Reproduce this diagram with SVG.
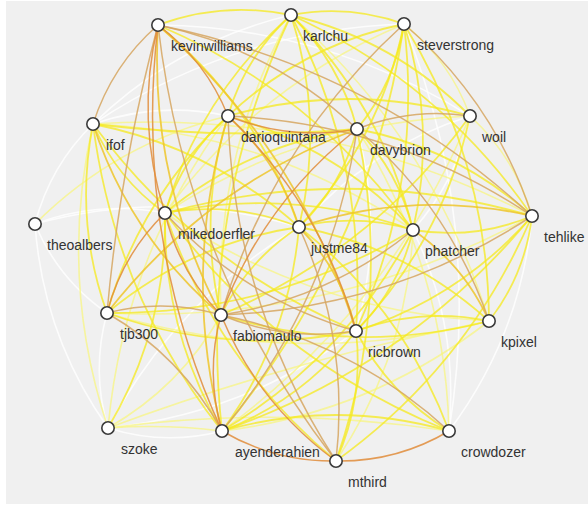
<svg xmlns="http://www.w3.org/2000/svg" width="588" height="505" viewBox="0 0 588 505">
<style>
.e path{fill:none;stroke-linecap:round}
.w{stroke:#ffffff;stroke-width:1.6;stroke-opacity:.8}
.ly{stroke:#f8f57a;stroke-width:1.6;stroke-opacity:.7}
.y{stroke:#f5ea1e;stroke-width:1.8;stroke-opacity:.75}
.g{stroke:#efc52c;stroke-width:1.8;stroke-opacity:.85}
.t{stroke:#d6a660;stroke-width:1.5;stroke-opacity:.85}
.o{stroke:#e08c3a;stroke-width:1.5;stroke-opacity:.85}
.n circle{fill:#ffffff;stroke:#3a3a3a;stroke-width:1.6}
.n text{font-family:"Liberation Sans",Arial,sans-serif;font-size:14px;fill:#333333}
</style>
<rect x="0" y="0" width="588" height="505" fill="#ffffff"/>
<rect x="6" y="1" width="582" height="503" fill="#f0f0f0"/>
<g id="connectors" class="e">
<g class="w">
<path d="M158 25Q327 27 470 116"/>
<path d="M291 15Q177 42 93 124"/>
<path d="M404 24Q483 221 449 431"/>
<path d="M93 124Q159 101 228 116"/>
<path d="M93 124Q50 166 35 224"/>
<path d="M470 116Q457 181 413 230"/>
<path d="M470 116Q369 148 299 227"/>
<path d="M35 224Q98 200 165 213"/>
<path d="M35 224Q58 279 107 313"/>
<path d="M35 224Q43 336 108 428"/>
<path d="M299 227Q175 301 108 428"/>
<path d="M413 230Q459 325 449 431"/>
<path d="M532 216Q521 335 449 431"/>
<path d="M107 313Q91 371 108 428"/>
<path d="M356 331Q246 414 108 428"/>
<path d="M222 431Q165 446 108 428"/>
<path d="M357 129Q385 230 356 331"/>
<path d="M93 124Q234 30 404 24"/>
<path d="M35 224Q167 188 299 227"/>
</g>
<g class="ly">
<path d="M93 124Q58 278 108 428"/>
<path d="M93 124Q268 132 413 230"/>
<path d="M93 124Q325 108 532 216"/>
<path d="M228 116Q124 255 108 428"/>
<path d="M228 116Q116 143 35 224"/>
<path d="M357 129Q445 267 449 431"/>
<path d="M470 116Q390 308 222 431"/>
<path d="M470 116Q304 122 165 213"/>
<path d="M470 116Q515 157 532 216"/>
<path d="M404 24Q258 85 165 213"/>
<path d="M404 24Q450 61 470 116"/>
<path d="M291 15Q214 155 221 315"/>
<path d="M291 15Q433 140 489 321"/>
<path d="M165 213Q312 312 489 321"/>
<path d="M413 230Q407 356 336 461"/>
<path d="M532 216Q333 324 107 313"/>
<path d="M107 313Q297 370 489 321"/>
<path d="M221 315Q180 387 108 428"/>
<path d="M222 431Q371 413 489 321"/>
<path d="M108 428Q280 405 449 431"/>
<path d="M108 428Q165 424 222 431"/>
<path d="M108 428Q290 360 489 321"/>
</g>
<g class="y">
<path d="M158 25Q223 1 291 15"/>
<path d="M158 25Q257 106 299 227"/>
<path d="M158 25Q314 92 413 230"/>
<path d="M291 15Q349 4 404 24"/>
<path d="M291 15Q245 57 228 116"/>
<path d="M291 15Q200 96 165 213"/>
<path d="M291 15Q325 120 299 227"/>
<path d="M291 15Q340 63 357 129"/>
<path d="M291 15Q395 40 470 116"/>
<path d="M291 15Q440 82 532 216"/>
<path d="M291 15Q382 105 413 230"/>
<path d="M291 15Q368 164 356 331"/>
<path d="M291 15Q198 213 222 431"/>
<path d="M404 24Q395 83 357 129"/>
<path d="M404 24Q303 45 228 116"/>
<path d="M404 24Q380 140 299 227"/>
<path d="M404 24Q437 126 413 230"/>
<path d="M404 24Q423 184 356 331"/>
<path d="M404 24Q488 161 489 321"/>
<path d="M404 24Q370 253 222 431"/>
<path d="M93 124Q225 140 357 129"/>
<path d="M93 124Q117 179 165 213"/>
<path d="M93 124Q210 147 299 227"/>
<path d="M93 124Q115 296 222 431"/>
<path d="M93 124Q74 221 107 313"/>
<path d="M93 124Q196 264 356 331"/>
<path d="M228 116Q349 82 470 116"/>
<path d="M228 116Q183 156 165 213"/>
<path d="M228 116Q197 215 221 315"/>
<path d="M228 116Q337 147 413 230"/>
<path d="M228 116Q140 198 107 313"/>
<path d="M357 129Q457 148 532 216"/>
<path d="M357 129Q342 186 299 227"/>
<path d="M357 129Q399 172 413 230"/>
<path d="M357 129Q249 144 165 213"/>
<path d="M357 129Q393 298 336 461"/>
<path d="M470 116Q443 240 356 331"/>
<path d="M470 116Q373 250 221 315"/>
<path d="M165 213Q234 201 299 227"/>
<path d="M165 213Q291 187 413 230"/>
<path d="M165 213Q349 163 532 216"/>
<path d="M165 213Q163 330 222 431"/>
<path d="M165 213Q167 329 108 428"/>
<path d="M165 213Q277 362 449 431"/>
<path d="M165 213Q216 361 336 461"/>
<path d="M299 227Q356 213 413 230"/>
<path d="M299 227Q248 260 221 315"/>
<path d="M299 227Q289 340 222 431"/>
<path d="M299 227Q191 243 107 313"/>
<path d="M299 227Q403 308 449 431"/>
<path d="M299 227Q407 247 489 321"/>
<path d="M413 230Q475 240 532 216"/>
<path d="M413 230Q399 289 356 331"/>
<path d="M413 230Q346 357 222 431"/>
<path d="M413 230Q272 314 107 313"/>
<path d="M532 216Q460 298 356 331"/>
<path d="M532 216Q525 275 489 321"/>
<path d="M532 216Q407 367 222 431"/>
<path d="M532 216Q468 366 336 461"/>
<path d="M107 313Q229 357 356 331"/>
<path d="M221 315Q354 356 489 321"/>
<path d="M356 331Q421 307 489 321"/>
<path d="M356 331Q303 400 222 431"/>
<path d="M356 331Q364 399 336 461"/>
<path d="M356 331Q389 394 449 431"/>
<path d="M222 431Q336 399 449 431"/>
</g>
<g class="g">
<path d="M158 25Q149 179 221 315"/>
<path d="M158 25Q300 150 356 331"/>
<path d="M93 124Q130 237 221 315"/>
<path d="M228 116Q279 162 299 227"/>
<path d="M228 116Q181 273 222 431"/>
<path d="M357 129Q206 186 107 313"/>
<path d="M299 227Q414 189 532 216"/>
<path d="M299 227Q342 271 356 331"/>
<path d="M413 230Q464 265 489 321"/>
</g>
<g class="t">
<path d="M158 25Q112 65 93 124"/>
<path d="M158 25Q120 168 107 313"/>
<path d="M158 25Q272 49 357 129"/>
<path d="M158 25Q372 68 532 216"/>
<path d="M158 25Q186 268 336 461"/>
<path d="M404 24Q495 102 532 216"/>
<path d="M404 24Q272 144 221 315"/>
<path d="M228 116Q394 123 532 216"/>
<path d="M228 116Q234 304 336 461"/>
<path d="M357 129Q412 107 470 116"/>
<path d="M357 129Q332 299 222 431"/>
<path d="M357 129Q450 207 489 321"/>
<path d="M165 213Q244 299 356 331"/>
<path d="M299 227Q350 339 336 461"/>
<path d="M413 230Q329 299 221 315"/>
<path d="M532 216Q390 309 221 315"/>
<path d="M107 313Q164 298 221 315"/>
<path d="M107 313Q181 356 222 431"/>
<path d="M221 315Q286 342 356 331"/>
<path d="M221 315Q351 341 449 431"/>
</g>
<g class="o">
<path d="M158 25Q135 120 165 213"/>
<path d="M158 25Q133 237 222 431"/>
<path d="M158 25Q206 61 228 116"/>
<path d="M228 116Q291 141 357 129"/>
<path d="M228 116Q322 206 356 331"/>
<path d="M165 213Q179 272 221 315"/>
<path d="M165 213Q122 255 107 313"/>
<path d="M357 129Q263 203 221 315"/>
<path d="M221 315Q205 373 222 431"/>
<path d="M221 315Q258 404 336 461"/>
<path d="M222 431Q275 462 336 461"/>
<path d="M336 461Q397 462 449 431"/>
</g>
</g>
<g id="kevinwilliams" class="n"><circle cx="158" cy="25" r="6.2"/><text x="171" y="51">kevinwilliams</text></g>
<g id="karlchu" class="n"><circle cx="291" cy="15" r="6.2"/><text x="303" y="41">karlchu</text></g>
<g id="steverstrong" class="n"><circle cx="404" cy="24" r="6.2"/><text x="417" y="50">steverstrong</text></g>
<g id="ifof" class="n"><circle cx="93" cy="124" r="6.2"/><text x="106" y="150">ifof</text></g>
<g id="darioquintana" class="n"><circle cx="228" cy="116" r="6.2"/><text x="241" y="142">darioquintana</text></g>
<g id="davybrion" class="n"><circle cx="357" cy="129" r="6.2"/><text x="370" y="155">davybrion</text></g>
<g id="woil" class="n"><circle cx="470" cy="116" r="6.2"/><text x="482" y="142">woil</text></g>
<g id="theoalbers" class="n"><circle cx="35" cy="224" r="6.2"/><text x="47" y="250">theoalbers</text></g>
<g id="mikedoerfler" class="n"><circle cx="165" cy="213" r="6.2"/><text x="178" y="239">mikedoerfler</text></g>
<g id="justme84" class="n"><circle cx="299" cy="227" r="6.2"/><text x="311" y="253">justme84</text></g>
<g id="phatcher" class="n"><circle cx="413" cy="230" r="6.2"/><text x="425" y="256">phatcher</text></g>
<g id="tehlike" class="n"><circle cx="532" cy="216" r="6.2"/><text x="544" y="242">tehlike</text></g>
<g id="tjb300" class="n"><circle cx="107" cy="313" r="6.2"/><text x="120" y="339">tjb300</text></g>
<g id="fabiomaulo" class="n"><circle cx="221" cy="315" r="6.2"/><text x="233" y="341">fabiomaulo</text></g>
<g id="ricbrown" class="n"><circle cx="356" cy="331" r="6.2"/><text x="368" y="357">ricbrown</text></g>
<g id="kpixel" class="n"><circle cx="489" cy="321" r="6.2"/><text x="501" y="347">kpixel</text></g>
<g id="szoke" class="n"><circle cx="108" cy="428" r="6.2"/><text x="121" y="454">szoke</text></g>
<g id="ayenderahien" class="n"><circle cx="222" cy="431" r="6.2"/><text x="235" y="457">ayenderahien</text></g>
<g id="mthird" class="n"><circle cx="336" cy="461" r="6.2"/><text x="348" y="487">mthird</text></g>
<g id="crowdozer" class="n"><circle cx="449" cy="431" r="6.2"/><text x="461" y="457">crowdozer</text></g>
</svg>
